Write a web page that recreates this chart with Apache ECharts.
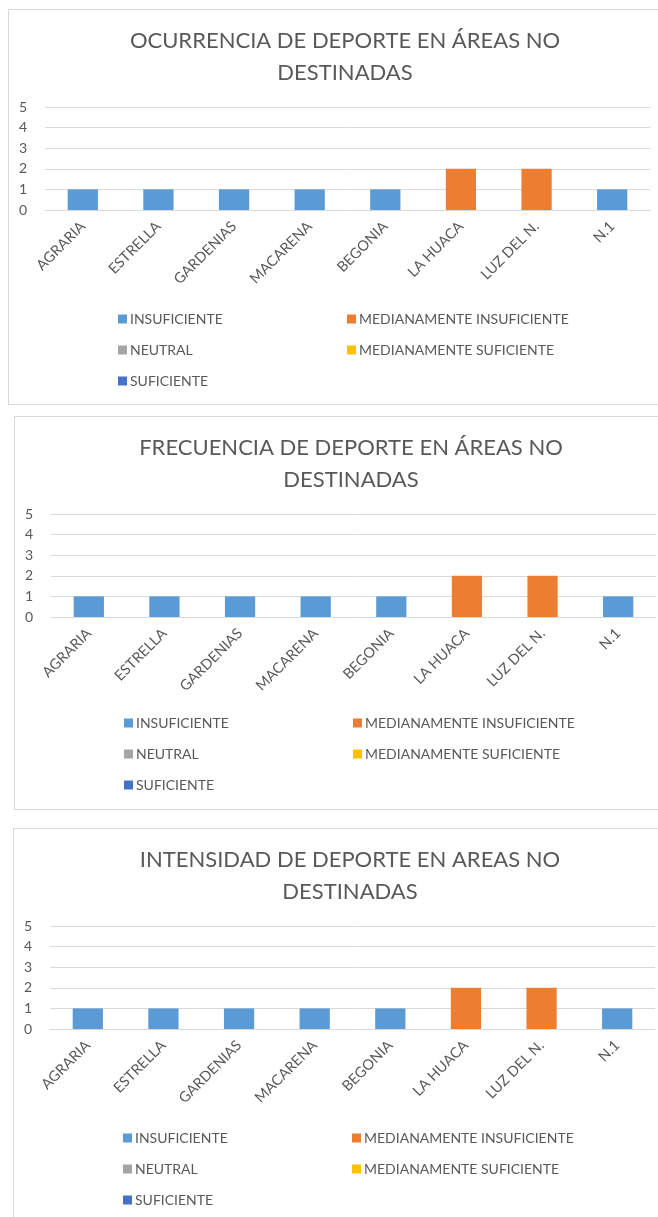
<!DOCTYPE html>
<html>
<head>
<meta charset="utf-8">
<script src="https://cdn.jsdelivr.net/npm/echarts@6/dist/echarts.min.js"></script>
<style>
  body { margin: 0; background: #fff; width: 658px; height: 1217px; overflow: hidden; position: relative; }
  .chart { position: absolute; border: 1px solid #d9d9d9; box-sizing: border-box; background: #fff; }
</style>
</head>
<body>
<div id="c1" class="chart" style="left:8px;top:9px;width:670px;height:396px;"></div>
<div id="c2" class="chart" style="left:14px;top:416px;width:670px;height:394px;"></div>
<div id="c3" class="chart" style="left:13px;top:828px;width:670px;height:410px;"></div>
<script>
// barrios
const categories = ['AGRARIA', 'ESTRELLA', 'GARDENIAS', 'MACARENA', 'BEGONIA', 'LA HUACA', 'LUZ DEL N.', 'N.1']
const yTicks = [0, 1, 2, 3, 4, 5]

const seriesNames = ['INSUFICIENTE', 'MEDIANAMENTE INSUFICIENTE', 'NEUTRAL', 'MEDIANAMENTE SUFICIENTE', 'SUFICIENTE']
const seriesColors = ['#5B9BD5', '#ED7D31', '#A5A5A5', '#FFC000', '#4472C4']

// ocurrencia
const ocurrenciaInsuficiente = [1, 1, 1, 1, 1, 0, 0, 1]
const ocurrenciaMedInsuficiente = [0, 0, 0, 0, 0, 2, 2, 0]
const ocurrenciaNeutral = [0, 0, 0, 0, 0, 0, 0, 0]
const ocurrenciaMedSuficiente = [0, 0, 0, 0, 0, 0, 0, 0]
const ocurrenciaSuficiente = [0, 0, 0, 0, 0, 0, 0, 0]

// frecuencia
const frecuenciaInsuficiente = [1, 1, 1, 1, 1, 0, 0, 1]
const frecuenciaMedInsuficiente = [0, 0, 0, 0, 0, 2, 2, 0]
const frecuenciaNeutral = [0, 0, 0, 0, 0, 0, 0, 0]
const frecuenciaMedSuficiente = [0, 0, 0, 0, 0, 0, 0, 0]
const frecuenciaSuficiente = [0, 0, 0, 0, 0, 0, 0, 0]

// intensidad
const intensidadInsuficiente = [1, 1, 1, 1, 1, 0, 0, 1]
const intensidadMedInsuficiente = [0, 0, 0, 0, 0, 2, 2, 0]
const intensidadNeutral = [0, 0, 0, 0, 0, 0, 0, 0]
const intensidadMedSuficiente = [0, 0, 0, 0, 0, 0, 0, 0]
const intensidadSuficiente = [0, 0, 0, 0, 0, 0, 0, 0]

const font = 'Lato, sans-serif'
const textColor = '#595959'

function buildOption(title, dataSets, legendTop) {
  const legendBase = {
    orient: 'vertical',
    top: legendTop,
    itemGap: 17,
    itemWidth: 9,
    itemHeight: 9,
    icon: 'rect',
    textStyle: { fontFamily: font, fontSize: 14, color: textColor, padding: [0, 0, 0, -2] }
  }
  return {
    animation: false,
    title: {
      text: title,
      left: 331,
      top: 10,
      textAlign: 'center',
      textStyle: { fontFamily: font, fontSize: 22, fontWeight: 'normal', color: textColor, lineHeight: 32 }
    },
    legend: [
      Object.assign({ data: [seriesNames[0], seriesNames[2], seriesNames[4]], left: 104 }, legendBase),
      Object.assign({ data: [seriesNames[1], seriesNames[3]], left: 333 }, legendBase)
    ],
    grid: { left: 36, top: 97, width: 605, height: 103 },
    xAxis: {
      type: 'category',
      data: categories,
      axisLine: { lineStyle: { color: '#d9d9d9', width: 1 } },
      axisTick: { show: false },
      axisLabel: { rotate: 45, interval: 0, margin: 14, fontFamily: font, fontSize: 14.5, color: textColor }
    },
    yAxis: {
      type: 'value',
      min: yTicks[0],
      max: yTicks[yTicks.length - 1],
      interval: 1,
      axisLine: { show: false },
      axisTick: { show: false },
      splitLine: { lineStyle: { color: '#d9d9d9', width: 1 } },
      axisLabel: { margin: 18, fontFamily: font, fontSize: 14, color: textColor }
    },
    series: dataSets.map((d, i) => ({
      name: seriesNames[i],
      type: 'bar',
      stack: 'total',
      barWidth: '40%',
      data: d.map(v => v === 0 ? '-' : v),
      itemStyle: { color: seriesColors[i] }
    }))
  }
}

const charts = [
  ['c1', 'OCURRENCIA DE DEPORTE EN ÁREAS NO\nDESTINADAS', 297,
    [ocurrenciaInsuficiente, ocurrenciaMedInsuficiente, ocurrenciaNeutral, ocurrenciaMedSuficiente, ocurrenciaSuficiente]],
  ['c2', 'FRECUENCIA DE DEPORTE EN ÁREAS NO\nDESTINADAS', 294,
    [frecuenciaInsuficiente, frecuenciaMedInsuficiente, frecuenciaNeutral, frecuenciaMedSuficiente, frecuenciaSuficiente]],
  ['c3', 'INTENSIDAD DE DEPORTE EN AREAS NO\nDESTINADAS', 297,
    [intensidadInsuficiente, intensidadMedInsuficiente, intensidadNeutral, intensidadMedSuficiente, intensidadSuficiente]]
]

charts.forEach(([id, title, legendTop, dataSets]) => {
  const chart = echarts.init(document.getElementById(id))
  chart.setOption(buildOption(title, dataSets, legendTop))
})
</script>
</body>
</html>
